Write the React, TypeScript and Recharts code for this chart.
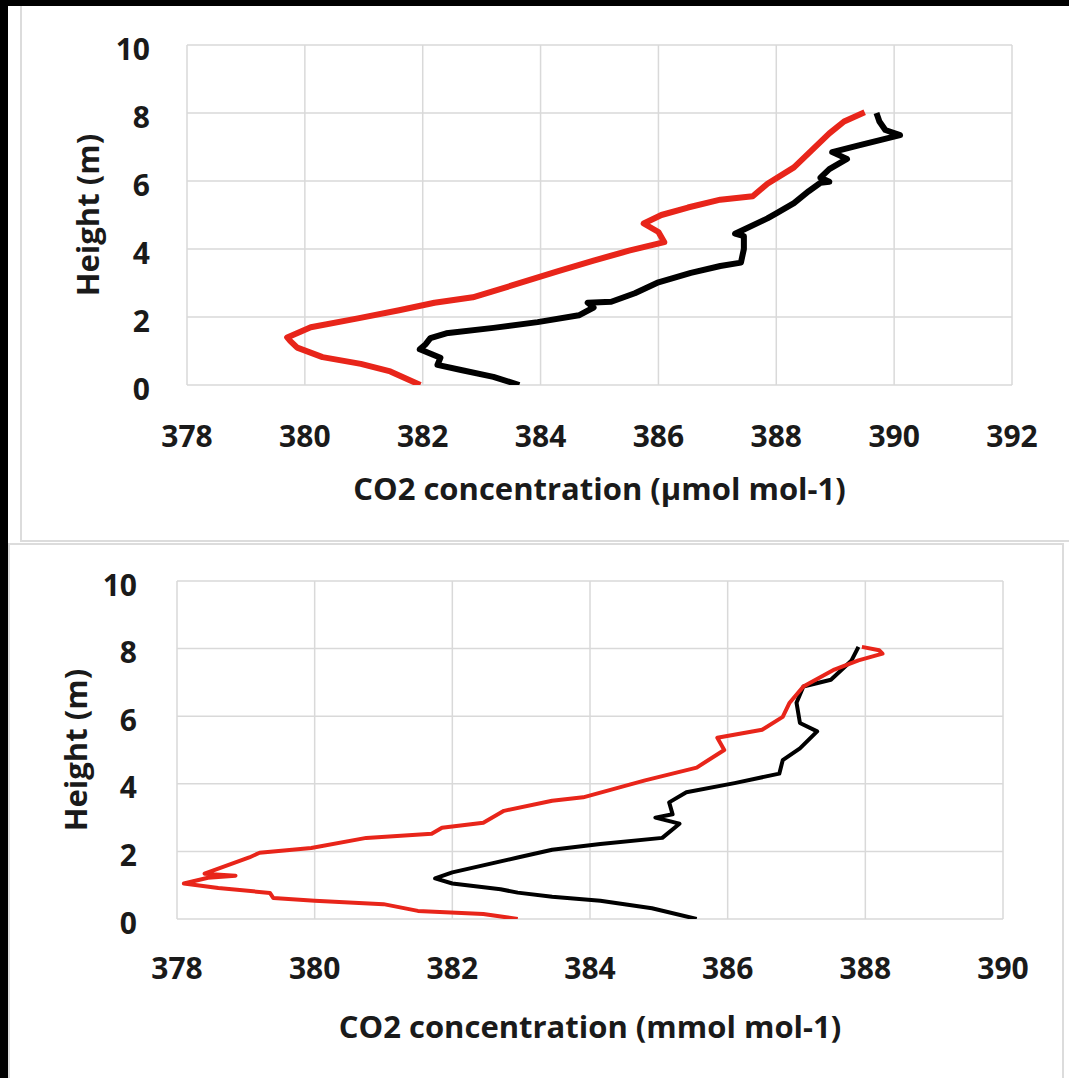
import { LineChart, Line, XAxis, YAxis, CartesianGrid, Label } from 'recharts';

// top panel (umol mol-1)
const topBlackCo2 = [383.64, 383.2, 382.65, 382.25, 382.3, 381.95, 382.05, 382.13, 382.4, 383.2, 383.95, 384.65, 384.9, 384.8, 385.2, 385.6, 386.0, 386.55, 387.05, 387.4, 387.45, 387.45, 387.3, 387.85, 388.0, 388.3, 388.55, 388.75, 388.9, 388.75, 388.9, 389.2, 388.95, 389.4, 390.1, 389.85, 389.75, 389.7];
const topBlackHeight = [0.0, 0.24, 0.44, 0.59, 0.8, 1.05, 1.2, 1.38, 1.52, 1.68, 1.85, 2.05, 2.28, 2.42, 2.45, 2.7, 3.02, 3.3, 3.5, 3.6, 4.0, 4.38, 4.45, 4.9, 5.05, 5.35, 5.7, 5.95, 5.98, 6.1, 6.35, 6.65, 6.85, 7.05, 7.35, 7.5, 7.75, 8.0];
const topRedCo2 = [381.96, 381.45, 380.95, 380.3, 379.87, 379.75, 379.7, 380.1, 380.9, 381.6, 382.2, 382.85, 383.5, 384.3, 384.9, 385.5, 386.1, 386.0, 385.75, 386.05, 386.5, 387.05, 387.6, 387.85, 388.3, 388.6, 388.9, 389.15, 389.5];
const topRedHeight = [0.0, 0.4, 0.62, 0.82, 1.1, 1.3, 1.4, 1.7, 1.96, 2.2, 2.42, 2.58, 2.92, 3.35, 3.66, 3.95, 4.2, 4.5, 4.75, 5.0, 5.22, 5.45, 5.55, 5.92, 6.4, 6.9, 7.4, 7.75, 8.02];

// bottom panel (mmol mol-1)
const bottomBlackCo2 = [385.55, 384.9, 384.15, 383.45, 382.95, 382.7, 382.0, 381.75, 382.0, 382.95, 383.45, 384.15, 385.05, 385.3, 384.95, 385.2, 385.15, 385.4, 386.1, 386.75, 386.8, 387.05, 387.3, 387.05, 387.0, 387.1, 387.5, 387.8, 387.9];
const bottomBlackHeight = [0.0, 0.32, 0.54, 0.66, 0.78, 0.88, 1.05, 1.2, 1.38, 1.82, 2.05, 2.22, 2.4, 2.82, 3.0, 3.1, 3.45, 3.75, 4.02, 4.3, 4.7, 5.05, 5.55, 5.8, 6.4, 6.88, 7.08, 7.65, 8.05];
const bottomRedCo2 = [382.95, 382.45, 381.5, 381.0, 380.0, 379.4, 379.35, 378.6, 378.1, 378.45, 378.85, 378.4, 379.05, 379.2, 379.95, 380.75, 381.7, 381.85, 382.45, 382.75, 383.45, 383.9, 384.8, 385.55, 385.95, 385.85, 386.5, 386.8, 386.9, 387.1, 387.55, 387.9, 388.25, 388.2, 387.95];
const bottomRedHeight = [0.0, 0.15, 0.24, 0.44, 0.54, 0.62, 0.77, 0.92, 1.05, 1.22, 1.28, 1.34, 1.82, 1.96, 2.1, 2.4, 2.52, 2.7, 2.85, 3.2, 3.5, 3.6, 4.1, 4.48, 5.0, 5.36, 5.6, 5.98, 6.4, 6.88, 7.38, 7.65, 7.85, 7.95, 8.05];

const topXTicks = [378, 380, 382, 384, 386, 388, 390, 392];
const bottomXTicks = [378, 380, 382, 384, 386, 388, 390];
const heightTicks = [0, 2, 4, 6, 8, 10];

const toPoints = (co2: number[], h: number[]) => co2.map((c, i) => ({ co2: c, h: h[i] }));

const RED = '#e8251a';
const FONT = "'Open Sans', sans-serif";
const tickStyle = { fontSize: 30, fontWeight: 700, fill: '#1a1a1a', fontFamily: FONT };
const labelStyle = { fontSize: 31, fontWeight: 700, fill: '#1a1a1a', fontFamily: FONT };

type PanelProps = {
  left: number;
  top: number;
  width: number;
  height: number;
  marginTop: number;
  yAxisWidth: number;
  xTicks: number[];
  xTickMargin: number;
  yTickMargin: number;
  labelOffset: number;
  xLabel: string;
  black: { co2: number; h: number }[];
  red: { co2: number; h: number }[];
  strokeWidth: number;
};

function Panel(p: PanelProps) {
  return (
    <div style={{ position: 'absolute', left: p.left, top: p.top }}>
      <LineChart width={p.width} height={p.height} margin={{ top: p.marginTop, right: 50, bottom: 10, left: 0 }}>
        <CartesianGrid stroke="#d9d9d9" strokeWidth={1.5} />
        <XAxis
          type="number"
          dataKey="co2"
          domain={[p.xTicks[0], p.xTicks[p.xTicks.length - 1]]}
          ticks={p.xTicks}
          allowDataOverflow
          axisLine={false}
          tickLine={false}
          tickSize={0}
          tickMargin={p.xTickMargin}
          tick={tickStyle}
          height={130}
        >
          <Label value={p.xLabel} position="insideBottom" offset={p.labelOffset} style={labelStyle} />
        </XAxis>
        <YAxis
          type="number"
          dataKey="h"
          domain={[0, 10]}
          ticks={heightTicks}
          allowDataOverflow
          axisLine={false}
          tickLine={false}
          tickSize={0}
          tickMargin={p.yTickMargin}
          tick={{ ...tickStyle, dy: 4 }}
          width={p.yAxisWidth}
        >
          <Label value="Height (m)" position="center" angle={-90} style={labelStyle} />
        </YAxis>
        <Line data={p.black} dataKey="h" stroke="#000" strokeWidth={p.strokeWidth} dot={false} strokeLinejoin="round" isAnimationActive={false} />
        <Line data={p.red} dataKey="h" stroke={RED} strokeWidth={p.strokeWidth} dot={false} strokeLinejoin="round" isAnimationActive={false} />
      </LineChart>
    </div>
  );
}

export default function App() {
  return (
    <div style={{ position: 'fixed', left: 0, top: 0, width: 1069, height: 1078, background: '#fff', overflow: 'hidden' }}>
      <div style={{ position: 'absolute', left: 0, top: 0, width: 8, height: 1078, background: '#000' }} />
      <div style={{ position: 'absolute', left: 0, top: 0, width: 1069, height: 6, background: '#000' }} />
      <div style={{ position: 'absolute', left: 20, top: 6, width: 1049, height: 536, boxSizing: 'border-box', borderLeft: '2px solid #dcdcdc', borderBottom: '2px solid #dcdcdc' }} />
      <div style={{ position: 'absolute', left: 8, top: 543, width: 1056, height: 540, boxSizing: 'border-box', border: '2px solid #dcdcdc' }} />
      <Panel
        left={-11}
        top={6}
        width={1073}
        height={519}
        marginTop={39}
        yAxisWidth={198}
        xTicks={topXTicks}
        xTickMargin={41}
        yTickMargin={37}
        labelOffset={15}
        xLabel="CO2 concentration (µmol mol-1)"
        black={toPoints(topBlackCo2, topBlackHeight)}
        red={toPoints(topRedCo2, topRedHeight)}
        strokeWidth={6}
      />
      <Panel
        left={-26}
        top={545}
        width={1079}
        height={514}
        marginTop={36}
        yAxisWidth={203}
        xTicks={bottomXTicks}
        xTickMargin={39}
        yTickMargin={40}
        labelOffset={11}
        xLabel="CO2 concentration (mmol mol-1)"
        black={toPoints(bottomBlackCo2, bottomBlackHeight)}
        red={toPoints(bottomRedCo2, bottomRedHeight)}
        strokeWidth={4}
      />
    </div>
  );
}
